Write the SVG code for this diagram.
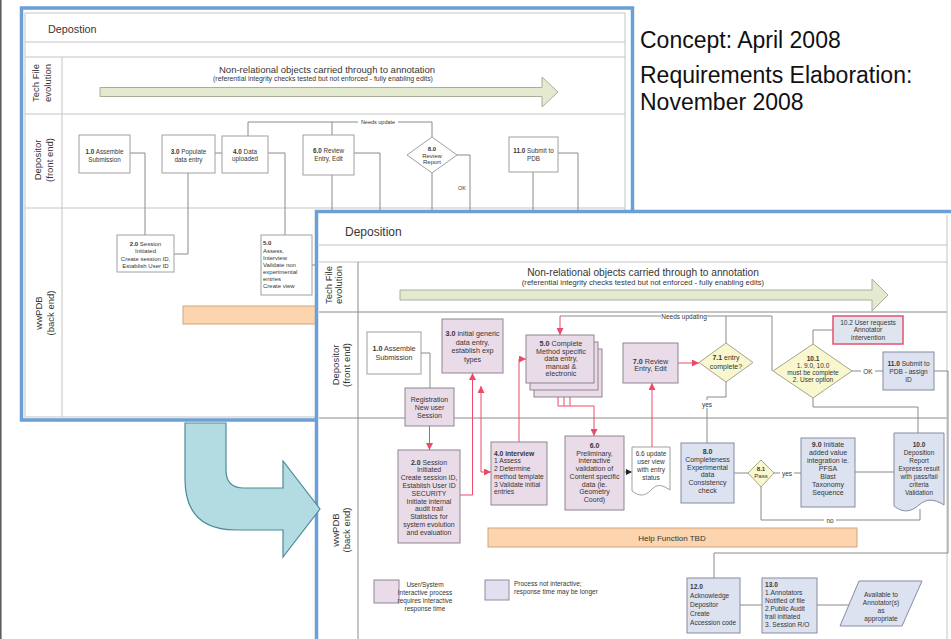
<svg xmlns="http://www.w3.org/2000/svg" width="951" height="639" viewBox="0 0 951 639">
<defs>
<style>
.t{font-family:"Liberation Sans",Arial,sans-serif;fill:#363636}
.c{text-anchor:middle}
.b{font-weight:bold}
.ln{fill:none;stroke:#8a8a8a;stroke-width:1}
.lt{fill:none;stroke:#c4c4c4;stroke-width:1}
.rd{fill:none;stroke:#ec4a68;stroke-width:1}
.lil{fill:#eadbe8;stroke:#8f8592;stroke-width:1}
.blu{fill:#dde2f0;stroke:#858ba0;stroke-width:1}
.yel{fill:#f9f7cd;stroke:#a5a48c;stroke-width:1}
.wht{fill:#fff;stroke:#a0a0a0;stroke-width:1}
.bg{fill:#fff}
.frame{fill:#fff;stroke:#6b9fd6;stroke-width:3.5}
.tech{fill:#e4ead0;stroke:#a9ae9a;stroke-width:1}
.help{fill:#fcd4ae;stroke:#d3a47d;stroke-width:1}
.cap{font-family:"Liberation Sans",Arial,sans-serif;font-size:23px;fill:#111}
</style>
<marker id="ra" viewBox="0 0 10 10" refX="10" refY="5" markerWidth="7" markerHeight="7" markerUnits="userSpaceOnUse" orient="auto-start-reverse">
<path d="M0,0 L10,5 L0,10 z" fill="#ec4a68"/>
</marker>
<marker id="ka" viewBox="0 0 10 10" refX="10" refY="5" markerWidth="6" markerHeight="6" markerUnits="userSpaceOnUse" orient="auto">
<path d="M0,0 L10,5 L0,10 z" fill="#222"/>
</marker>
</defs>

<rect width="951" height="639" fill="#fff"/>
<line x1="0.8" y1="0" x2="0.8" y2="639" stroke="#555" stroke-width="1.5"/>

<!-- ============ earlier sheet (behind) ============ -->
<g id="sheet-2008a">
<rect class="frame" x="21.5" y="8" width="611" height="412"/>
<rect class="lt" x="25" y="13" width="600" height="404"/>
<line class="lt" x1="25" y1="42" x2="625" y2="42"/>
<line class="lt" x1="25" y1="57" x2="625" y2="57"/>
<line class="lt" x1="25" y1="114" x2="625" y2="114"/>
<line class="lt" x1="25" y1="208" x2="625" y2="208"/>
<line class="lt" x1="62" y1="57" x2="62" y2="417"/>
<text class="t" x="48" y="33" font-size="10.8">Depostion</text>

<g id="a-lanes" font-size="9.5">
<text class="t c" transform="translate(39,83) rotate(-90)">Tech File</text>
<text class="t c" transform="translate(51,83) rotate(-90)">evolution</text>
<text class="t c" transform="translate(41,160) rotate(-90)">Depositor</text>
<text class="t c" transform="translate(53,160) rotate(-90)">(front end)</text>
<text class="t c" transform="translate(42,313) rotate(-90)">wwPDB</text>
<text class="t c" transform="translate(53.5,313) rotate(-90)">(back end)</text>
</g>

<g id="a-tech">
<text class="t c" x="327" y="73" font-size="9.5">Non-relational objects carried through to annotation</text>
<text class="t c" x="323" y="81" font-size="6.9">(referential integrity checks tested but not enforced - fully enabling edits)</text>
<path class="tech" d="M100,87.5 H542 V77 L558,92 L542,107 V96.5 H100 Z"/>
</g>

<g id="a-connectors">
<path class="ln" d="M130,153 H145 V235"/>
<path class="ln" d="M188,173 V254 H174"/>
<path class="ln" d="M215,153 H222"/>
<path class="ln" d="M268,153 H285 V235"/>
<path class="ln" d="M248,136 V122 H432 V137"/>
<path class="ln" d="M332,122 V135"/>
<path class="ln" d="M332,175 V230"/>
<path class="ln" d="M354,153 H380 V230"/>
<path class="ln" d="M457,155 H470 V230"/>
<path class="ln" d="M432,173 V230"/>
<path class="ln" d="M533,172 V230"/>
<path class="ln" d="M558,153 H578 V230"/>
<path class="ln" d="M312,265 H330"/>
<rect class="bg" x="358" y="118" width="40" height="7"/>
<text class="t c" x="378" y="124" font-size="5.5">Needs update</text>
<text class="t c" x="462" y="190" font-size="5.5">OK</text>
</g>

<g id="a-n1"><rect class="wht" x="79" y="135" width="51" height="38"/>
<text class="t c" font-size="6.3"><tspan x="104.5" y="154"><tspan class="b">1.0</tspan> Assemble</tspan><tspan x="104.5" y="161.5">Submission</tspan></text></g>
<g id="a-n3"><rect class="wht" x="162" y="135" width="53" height="38"/>
<text class="t c" font-size="6.3"><tspan x="188.5" y="154"><tspan class="b">3.0</tspan> Populate</tspan><tspan x="188.5" y="161.5">data entry</tspan></text></g>
<g id="a-n4"><rect class="wht" x="222" y="136" width="46" height="37"/>
<text class="t c" font-size="6.3"><tspan x="245" y="153.5"><tspan class="b">4.0</tspan> Data</tspan><tspan x="245" y="161">uploaded</tspan></text></g>
<g id="a-n6"><rect class="wht" x="303" y="135" width="51" height="40"/>
<text class="t c" font-size="6.3"><tspan x="328.5" y="153"><tspan class="b">6.0</tspan> Review</tspan><tspan x="328.5" y="160.5">Entry, Edit</tspan></text></g>
<g id="a-n8"><path class="wht" d="M432,137 L457,155 L432,173 L407,155 Z"/>
<text class="t c" font-size="6"><tspan class="b" x="432" y="151">8.0</tspan><tspan x="432" y="157.5">Review</tspan><tspan x="432" y="164">Report</tspan></text></g>
<g id="a-n11"><rect class="wht" x="509" y="137" width="49" height="35"/>
<text class="t c" font-size="6.3"><tspan x="533.5" y="153"><tspan class="b">11.0</tspan> Submit to</tspan><tspan x="533.5" y="160.5">PDB</tspan></text></g>
<g id="a-n2"><rect class="wht" x="117" y="235" width="57" height="37"/>
<text class="t c" font-size="6"><tspan x="145.5" y="245.5"><tspan class="b">2.0</tspan> Session</tspan><tspan x="145.5" y="253">Initiated</tspan><tspan x="145.5" y="260.5">Create session ID,</tspan><tspan x="145.5" y="268">Establish User ID</tspan></text></g>
<g id="a-n5"><rect class="wht" x="261" y="235" width="51" height="60"/>
<text class="t" font-size="6"><tspan class="b" x="263" y="245">5.0</tspan><tspan x="263" y="252.5">Assess,</tspan><tspan x="263" y="259.5">Interview</tspan><tspan x="263" y="266.5">Validate non</tspan><tspan x="263" y="274">experimental</tspan><tspan x="263" y="281">entries</tspan><tspan x="263" y="288">Create view</tspan></text></g>
<rect class="help" x="183" y="306" width="150" height="18"/>
</g>

<!-- ============ revised sheet (front) ============ -->
<g id="sheet-2008b">
<rect class="frame" x="316.5" y="211.5" width="650" height="440"/>
<line class="lt" x1="319" y1="245" x2="947" y2="245"/>
<line class="lt" x1="319" y1="262" x2="947" y2="262"/>
<line class="ln" x1="319" y1="312" x2="947" y2="312" stroke="#b0b0b0"/>
<line class="ln" x1="319" y1="418" x2="947" y2="418" stroke="#b0b0b0"/>
<line class="ln" x1="358" y1="262" x2="358" y2="639" stroke="#b0b0b0"/>
<line class="lt" x1="947" y1="215" x2="947" y2="639"/>
<text class="t" x="345" y="236" font-size="12">Deposition</text>

<g id="b-lanes" font-size="9.5">
<text class="t c" transform="translate(332,285) rotate(-90)">Tech File</text>
<text class="t c" transform="translate(342,285) rotate(-90)">evolution</text>
<text class="t c" transform="translate(338.5,365) rotate(-90)">Depositor</text>
<text class="t c" transform="translate(350,365) rotate(-90)">(front end)</text>
<text class="t c" transform="translate(339,530) rotate(-90)">wwPDB</text>
<text class="t c" transform="translate(349.5,530) rotate(-90)">(back end)</text>
</g>

<g id="b-tech">
<text class="t c" x="643" y="275.5" font-size="10.2">Non-relational objects carried through to annotation</text>
<text class="t c" x="643" y="285" font-size="7.6">(referential integrity checks tested but not enforced - fully enabling edits)</text>
<path class="tech" d="M400,290 H872 V279 L888,295 L872,311 V300 H400 Z"/>
</g>

<g id="connectors">
<path class="ln" d="M421,353 H430 V388"/>
<path class="rd" d="M429.5,426 V450" marker-end="url(#ra)"/>
<path class="rd" d="M460,495 H472.5 V373" marker-end="url(#ra)"/>
<path class="rd" d="M481,386 V472 H491" marker-start="url(#ra)" marker-end="url(#ra)"/>
<path class="rd" d="M519,442 V359 H526" marker-end="url(#ra)"/>
<path class="rd" d="M558,397 V406 M564,397 V406 M570,397 V406 M558,406 H594 V436" marker-end="url(#ra)"/>
<path class="rd" d="M652,447 V383" marker-end="url(#ra)"/>
<path class="rd" d="M678,363 H699" marker-end="url(#ra)"/>
<path class="ln" d="M772,371 V316 H560"/>
<path class="ln" d="M726,343 V316"/>
<path class="rd" d="M560,316 V335" marker-end="url(#ra)"/>
<path class="ln" d="M813,344 V330 H833"/>
<path class="ln" d="M852,371 H883"/>
<path class="ln" d="M934,371 H948 V553 H714 V578"/>
<path class="ln" d="M813,398 V407 H918 V433"/>
<path class="ln" d="M726,382 V397 H707 V443"/>
<path class="ln" d="M624,472 H632" marker-end="url(#ka)"/>
<path class="ln" d="M734,473 H748"/>
<path class="ln" d="M774,473 H801"/>
<path class="ln" d="M855,472 H894"/>
<path class="ln" d="M761,487 V520 H920 V509"/>
<path class="ln" d="M740,605 H762"/>
<path class="ln" d="M817,605 H849"/>
<rect class="bg" x="661" y="313" width="46" height="7"/>
<text class="t c" x="684" y="318.5" font-size="6.5">Needs updating</text>
<rect class="bg" x="861" y="367" width="14" height="8"/>
<text class="t c" x="868" y="373.5" font-size="6.5">OK</text>
<rect class="bg" x="700" y="400" width="14" height="8"/>
<text class="t c" x="707" y="406.5" font-size="6.5">yes</text>
<rect class="bg" x="780" y="469" width="14" height="8"/>
<text class="t c" x="787" y="475.5" font-size="6.5">yes</text>
<rect class="bg" x="824" y="516" width="12" height="8"/>
<text class="t c" x="830" y="522.5" font-size="6.5">no</text>
</g>

<g id="n1-0"><rect class="wht" x="367" y="332" width="54" height="42"/>
<text class="t c" font-size="7.2"><tspan x="394" y="351"><tspan class="b">1.0</tspan> Assemble</tspan><tspan x="394" y="360">Submission</tspan></text></g>

<g id="n3-0"><rect class="lil" x="442" y="319" width="61" height="54"/>
<text class="t c" font-size="7.2"><tspan x="472.5" y="336"><tspan class="b">3.0</tspan> initial generic</tspan><tspan x="472.5" y="344.5">data entry,</tspan><tspan x="472.5" y="353">establish exp</tspan><tspan x="472.5" y="361.5">types</tspan></text></g>

<g id="n-registration"><rect class="lil" x="405" y="388" width="49" height="38"/>
<text class="t c" font-size="7"><tspan x="429.5" y="402">Registration</tspan><tspan x="429.5" y="410">New user</tspan><tspan x="429.5" y="418">Session</tspan></text></g>

<g id="n5-0">
<rect class="lil" x="534" y="349" width="68" height="48"/>
<rect class="lil" x="530" y="342" width="68" height="48"/>
<rect class="lil" x="526" y="335" width="68" height="48"/>
<text class="t c" font-size="7.2"><tspan x="561" y="346"><tspan class="b">5.0</tspan> Complete</tspan><tspan x="561" y="353.5">Method specific</tspan><tspan x="561" y="361">data entry,</tspan><tspan x="561" y="368.5">manual &amp;</tspan><tspan x="561" y="376">electronic</tspan></text></g>

<g id="n7-0"><rect class="lil" x="623" y="343" width="55" height="40"/>
<text class="t c" font-size="7.2"><tspan x="650.5" y="363.5"><tspan class="b">7.0</tspan> Review</tspan><tspan x="650.5" y="371">Entry, Edit</tspan></text></g>

<g id="n7-1"><path class="yel" d="M726,343 L753,362.5 L726,382 L699,362.5 Z"/>
<text class="t c" font-size="7"><tspan x="726" y="360"><tspan class="b">7.1</tspan>  entry</tspan><tspan x="726" y="368.5">complete?</tspan></text></g>

<g id="n10-2"><rect x="833" y="316" width="70" height="28" fill="#dfe5ef" stroke="#e8506c" stroke-width="1.5"/>
<text class="t c" font-size="6.6"><tspan x="868" y="324.5">10.2 User requests</tspan><tspan x="868" y="332">Annotator</tspan><tspan x="868" y="339.5">intervention</tspan></text></g>

<g id="n10-1"><path class="yel" d="M813,344 L852,371 L813,398 L773,371 Z"/>
<text class="t c" font-size="6.5"><tspan class="b" x="813" y="360.5">10.1</tspan><tspan x="813" y="367.5">1. 9.0, 10.0</tspan><tspan x="813" y="374.5">must be complete</tspan><tspan x="813" y="382">2. User option</tspan></text></g>

<g id="n11-0"><rect class="blu" x="883" y="352" width="51" height="38"/>
<text class="t c" font-size="6.6"><tspan x="908.5" y="365.5"><tspan class="b">11.0</tspan> Submit to</tspan><tspan x="908.5" y="373.5">PDB - assign</tspan><tspan x="908.5" y="381.5">ID</tspan></text></g>

<g id="n2-0"><rect class="lil" x="398" y="450" width="62" height="93"/>
<text class="t c" font-size="6.9"><tspan x="429" y="464.5"><tspan class="b">2.0</tspan> Session</tspan><tspan x="429" y="472.3">Initiated</tspan><tspan x="429" y="480">Create session ID,</tspan><tspan x="429" y="487.9">Establish User ID</tspan><tspan x="429" y="495.7">SECURITY</tspan><tspan x="429" y="503.5">Initiate internal</tspan><tspan x="429" y="511.3">audit trail</tspan><tspan x="429" y="519">Statistics for</tspan><tspan x="429" y="526.9">system evolution</tspan><tspan x="429" y="534.7">and evaluation</tspan></text></g>

<g id="n4-0"><rect class="lil" x="491" y="442" width="56" height="63"/>
<text class="t" font-size="6.7"><tspan class="b" x="494" y="455.5">4.0 interview</tspan><tspan x="494" y="463.3">1 Assess</tspan><tspan x="494" y="471">2 Determine</tspan><tspan x="494" y="478.8">method template</tspan><tspan x="494" y="486.5">3 Validate initial</tspan><tspan x="494" y="494.3">entries</tspan></text></g>

<g id="n6-0"><rect class="lil" x="565" y="436" width="59" height="74"/>
<text class="t c" font-size="7"><tspan class="b" x="594.5" y="447.5">6.0</tspan><tspan x="594.5" y="455.5">Preliminary,</tspan><tspan x="594.5" y="463">interactive</tspan><tspan x="594.5" y="470.5">validation of</tspan><tspan x="594.5" y="478.5">Content specific</tspan><tspan x="594.5" y="486.5">data (ie.</tspan><tspan x="594.5" y="494">Geometry</tspan><tspan x="594.5" y="501.5">Coord)</tspan></text></g>

<g id="n6-6"><path class="wht" d="M632,447 H670 V490 C661,484 657,484 651,490 S640,497 632,491 Z"/>
<text class="t c" font-size="6.5"><tspan x="651" y="455.5">6.6 update</tspan><tspan x="651" y="463.5">user view</tspan><tspan x="651" y="471.5">with entry</tspan><tspan x="651" y="479.5">status</tspan></text></g>

<g id="n8-0"><rect class="blu" x="681" y="443" width="53" height="60"/>
<text class="t c" font-size="7"><tspan class="b" x="707.5" y="454">8.0</tspan><tspan x="707.5" y="461.5">Completeness</tspan><tspan x="707.5" y="469.5">Experimental</tspan><tspan x="707.5" y="477">data</tspan><tspan x="707.5" y="484.5">Consistency</tspan><tspan x="707.5" y="492.5">check</tspan></text></g>

<g id="n8-1"><path class="yel" d="M761,460 L774,473 L761,487 L748,473 Z"/>
<text class="t c" font-size="6"><tspan class="b" x="761" y="471">8.1</tspan><tspan x="761" y="478">Pass</tspan></text></g>

<g id="n9-0"><rect class="blu" x="801" y="438" width="54" height="69"/>
<text class="t c" font-size="7"><tspan x="828" y="447"><tspan class="b">9.0</tspan> Initiate</tspan><tspan x="828" y="455">added value</tspan><tspan x="828" y="463">integration ie.</tspan><tspan x="828" y="471">PFSA</tspan><tspan x="828" y="479">Blast</tspan><tspan x="828" y="487">Taxonomy</tspan><tspan x="828" y="495">Sequence</tspan></text></g>

<g id="n10-0"><path class="blu" d="M894,433 H944 V505 C933,498 926,499 919,505 S904,514 894,506 Z"/>
<text class="t c" font-size="6.5"><tspan class="b" x="919" y="447">10.0</tspan><tspan x="919" y="455">Deposition</tspan><tspan x="919" y="463">Report</tspan><tspan x="919" y="471">Express result</tspan><tspan x="919" y="479">with pass/fail</tspan><tspan x="919" y="487">criteria</tspan><tspan x="919" y="495">Validation</tspan></text></g>

<g id="help-bar"><rect class="help" x="488" y="528" width="369" height="19"/>
<text class="t c" x="672" y="540.5" font-size="8" fill="#6b4a3a">Help Function TBD</text></g>

<g id="n12-0"><rect class="blu" x="687" y="578" width="53" height="55"/>
<text class="t" font-size="6.6"><tspan class="b" x="690" y="589">12.0</tspan><tspan x="690" y="598">Acknowledge</tspan><tspan x="690" y="607">Depositor</tspan><tspan x="690" y="616">Create</tspan><tspan x="690" y="625">Accession code</tspan></text></g>

<g id="n13-0"><rect class="blu" x="762" y="578" width="55" height="55"/>
<text class="t" font-size="6.6"><tspan class="b" x="765" y="587">13.0</tspan><tspan x="765" y="595">1.Annotators</tspan><tspan x="765" y="603">Notified of file</tspan><tspan x="765" y="611">2.Public Audit</tspan><tspan x="765" y="619">trail initiated</tspan><tspan x="765" y="627">3. Session R/O</tspan></text></g>

<g id="n-available"><path class="blu" d="M859,581 H922 L902,626 H840 Z"/>
<text class="t c" font-size="6.6"><tspan x="881" y="597">Available to</tspan><tspan x="881" y="605">Annotator(s)</tspan><tspan x="881" y="613">as</tspan><tspan x="881" y="621">appropriate</tspan></text></g>

<g id="legend">
<rect class="lil" x="374" y="580" width="25" height="23"/>
<text class="t c" font-size="6.5"><tspan x="425" y="587">User/System</tspan><tspan x="425" y="595">Interactive process</tspan><tspan x="425" y="603">requires interactive</tspan><tspan x="425" y="611">response time</tspan></text>
<rect x="485" y="580" width="24" height="20" fill="#e2dff0" stroke="#8f8ca0"/>
<text class="t" font-size="6.5"><tspan x="514" y="586">Process not interactive;</tspan><tspan x="514" y="594">response time may be longer</tspan></text>
</g>
</g>

<!-- transition arrow between the two sheets -->
<path id="transition-arrow" d="M185,423 H226 V470 Q226,488 244,488 H283 V461 L320,509 L283,557 V530 H236 Q185,530 185,479 Z" fill="#b3dce2" stroke="#4c8a9a" stroke-width="1.2"/>

<g id="captions">
<text class="cap" x="640" y="48">Concept: April 2008</text>
<text class="cap" x="640" y="83">Requirements Elaboration:</text>
<text class="cap" x="640" y="110">November 2008</text>
</g>
</svg>
